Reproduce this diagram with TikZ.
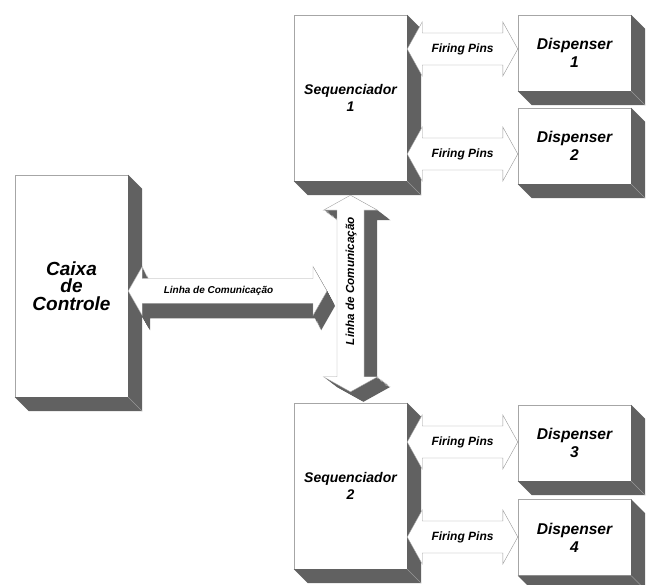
\documentclass[tikz,border=0pt]{standalone}
\usepackage{fontspec}
\setmainfont{Liberation Sans}
\usetikzlibrary{calc}

% block arrow with two heads: style, from, to, half shaft, half head, head length
\newcommand\blockarr[6]{%
  \path[#1] (#2)
    -- ($(#2)!#6!(#3)!#5!90:(#3)$)  -- ($(#2)!#6!(#3)!#4!90:(#3)$)
    -- ($(#3)!#6!(#2)!#4!-90:(#2)$) -- ($(#3)!#6!(#2)!#5!-90:(#2)$)
    -- (#3)
    -- ($(#3)!#6!(#2)!#5!90:(#2)$)  -- ($(#3)!#6!(#2)!#4!90:(#2)$)
    -- ($(#2)!#6!(#3)!#4!-90:(#3)$) -- ($(#2)!#6!(#3)!#5!-90:(#3)$)
    -- cycle;}

\begin{document}
\begin{tikzpicture}[
  x=1pt, y=-1pt,
  face/.style    = {draw=black!35, fill=white, inner sep=0pt, align=center,
                    minimum width=113pt},
  ctrlbox/.style = {face, minimum height=222pt,
                    font=\fontsize{19}{17.5}\selectfont\bfseries\itshape},
  seqbox/.style  = {face, minimum height=166pt,
                    font=\fontsize{14}{16.7}\selectfont\bfseries\itshape},
  dispbox/.style = {face, minimum height=76pt,
                    font=\fontsize{15.6}{18.3}\selectfont\bfseries\itshape},
  side/.style    = {fill=black!62},
  hollow/.style  = {draw=black!40, fill=white},
  lbl/.style     = {inner sep=0pt, font=\bfseries\itshape},
]
\useasboundingbox (0,0) rectangle (654,585);

% ================= boxes ===============================================
\node[ctrlbox] (caixa) at (71.5,286)    {Caixa\\de\\Controle};
\node[seqbox]  (seq1)  at (350.5,98)    {Sequenciador\\1};
\node[seqbox]  (seq2)  at (350.5,486)   {Sequenciador\\2};
\node[dispbox] (disp1) at (574.5,53)    {Dispenser\\1};
\node[dispbox] (disp2) at (574.5,146)   {Dispenser\\2};
\node[dispbox] (disp3) at (574.5,443)   {Dispenser\\3};
\node[dispbox] (disp4) at (574.5,537.5) {Dispenser\\4};

% depth of the boxes
\foreach \n in {caixa,seq1,seq2,disp1,disp2,disp3,disp4} {
  \fill[side] (\n.north east) -- ++(14,14) -- ($(\n.south east)+(14,14)$)
    -- ($(\n.south west)+(14,14)$) -- (\n.south west) -- (\n.south east) -- cycle;
  \draw[black!40] (\n.south east) -- ++(14,14);
}

% ================= firing pins =========================================
\foreach \i/\s/\d/\y in {1/seq1/disp1/49, 2/seq1/disp2/154,
                         3/seq2/disp3/442, 4/seq2/disp4/537} {
  \coordinate (fp\i s) at (\s.east |- 0,\y);
  \coordinate (fp\i e) at (\d.west |- 0,\y);
  \blockarr{hollow}{fp\i s}{fp\i e}{16pt}{27pt}{15pt}
  \node[lbl, font=\fontsize{12}{14}\selectfont\bfseries\itshape] (fp\i)
    at ($(fp\i s)!0.5!(fp\i e)$) {Firing Pins};
}

% ================= communication lines =================================
\coordinate (hs) at (caixa.east |- 0,291);
\coordinate (he) at (327,291);
\foreach \k in {1,...,15} {
  \coordinate (ha) at ($(hs)+(\k*8/15,\k)$);
  \coordinate (hb) at ($(he)+(\k*8/15,\k)$);
  \blockarr{side}{ha}{hb}{12.5pt}{24.5pt}{14pt}
}
\blockarr{draw=black!35, fill=white}{hs}{he}{12.5pt}{24.5pt}{14pt}
\node[lbl, font=\fontsize{10}{12}\selectfont\bfseries\itshape] (hlink)
  at (218.5,291) {Linha de Comunicação};

\coordinate (vs) at ($(seq1.south)+(0,14)$);
\coordinate (ve) at ($(seq2.north)+(0,-11)$);
\foreach \k in {1,...,13} {
  \coordinate (va) at ($(vs)+(\k,\k*10/13)$);
  \coordinate (vb) at ($(ve)+(\k,\k*10/13)$);
  \blockarr{side}{va}{vb}{13.5pt}{27pt}{15pt}
}
\blockarr{draw=black!35, fill=white}{vs}{ve}{13.5pt}{27pt}{15pt}
\node[lbl, rotate=90, font=\fontsize{11.7}{14}\selectfont\bfseries\itshape] (vlink)
  at (351,281) {Linha de Comunicação};

\end{tikzpicture}
\end{document}
